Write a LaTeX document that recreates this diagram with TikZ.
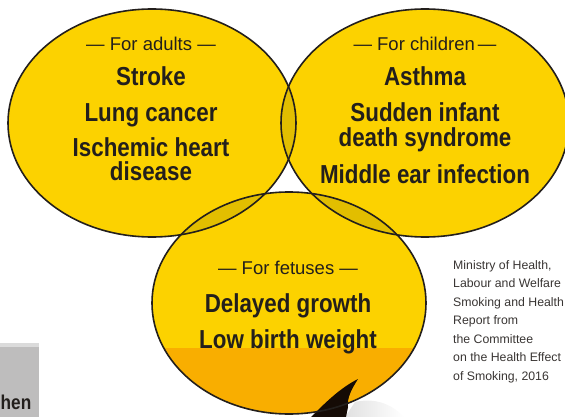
\documentclass[tikz,border=0pt]{standalone}
\usepackage{fontspec}
\setmainfont{Liberation Sans}
\newfontfamily\condfont{Liberation Sans}[FakeStretch=0.86]

\definecolor{sun}{HTML}{FCD200}
\definecolor{lens}{HTML}{E2BE00}
\definecolor{amber}{HTML}{F9AE00}
\definecolor{ink}{HTML}{231F1C}
\definecolor{tail}{HTML}{150B05}
\definecolor{boxgray}{HTML}{BEBDBD}
\definecolor{boxtop}{HTML}{DBDBDB}

\tikzset{
  header/.style={anchor=base, inner sep=0pt, text=ink, font=\fontsize{18.5}{20}\selectfont},
  item/.style={anchor=base, inner sep=0pt, text=ink, font=\condfont\bfseries\fontsize{26}{26}\selectfont},
  note/.style={anchor=north west, inner sep=0pt, align=left, text=ink!90, font=\fontsize{12.3}{18.5}\selectfont},
  ring/.style={draw=ink, line width=1.6pt},
}

\begin{document}
\begin{tikzpicture}[x=1pt, y=-1pt]
  \useasboundingbox (0,0) rectangle (565,417);
  \clip (0,0) rectangle (565,417);

  % Mittelpunkte der drei Ellipsen
  \coordinate (ca) at (152,123);
  \coordinate (cc) at (425,123);
  \coordinate (cf) at (289,303);

  % Schatten unten rechts
  \shade[left color=black!12, right color=white]
    (345,417) -- (355,402) .. controls (372,398) and (390,402) .. (404,417) -- cycle;

  % Flaechen
  \fill[sun] (ca) ellipse [x radius=144pt, y radius=114pt];
  \fill[sun] (cc) ellipse [x radius=144pt, y radius=114pt];
  \fill[sun] (cf) ellipse [x radius=137pt, y radius=111pt];

  % Ueberschneidungen
  \begin{scope}
    \clip (ca) ellipse [x radius=144pt, y radius=114pt];
    \fill[lens] (cc) ellipse [x radius=144pt, y radius=114pt];
    \fill[lens] (cf) ellipse [x radius=137pt, y radius=111pt];
  \end{scope}
  \begin{scope}
    \clip (cc) ellipse [x radius=144pt, y radius=114pt];
    \fill[lens] (cf) ellipse [x radius=137pt, y radius=111pt];
  \end{scope}

  % unterer Streifen
  \begin{scope}
    \clip (cf) ellipse [x radius=137pt, y radius=111pt];
    \fill[amber] (140,348) rectangle (440,420);
  \end{scope}

  % Spitze
  \fill[tail] (311,417) .. controls (325,403) and (340,388) .. (358,379)
    .. controls (351,390) and (347,398) .. (348,407) -- (346,417) -- cycle;

  % Umrisse
  \draw[ring] (ca) ellipse [x radius=144pt, y radius=114pt];
  \draw[ring] (cc) ellipse [x radius=144pt, y radius=114pt];
  \draw[ring] (cf) ellipse [x radius=137pt, y radius=111pt];

  % Erwachsene
  \node[header] (hadults) at (151,50.7) {— For adults —};
  \node[item] (stroke)  at (151,86)  {Stroke};
  \node[item] (lung)    at (151,122) {Lung cancer};
  \node[item] (heart)   at (151,157) {Ischemic heart};
  \node[item] (disease) at (151,181) {disease};

  % Kinder
  \node[header] (hchild) at (425,50.7) {— For children\,—};
  \node[item] (asthma) at (425,86)  {Asthma};
  \node[item] (sids1)  at (425,122) {Sudden infant};
  \node[item] (sids2)  at (425,147) {death syndrome};
  \node[item] (ear)    at (425,183) {Middle ear infection};

  % Foeten
  \node[header] (hfetus) at (288,274) {— For fetuses —};
  \node[item] (delay) at (288,312) {Delayed growth};
  \node[item] (low)   at (288,348) {Low birth weight};

  % Quelle
  \node[note] (src) at (453,260) {Ministry of Health,\\Labour and Welfare\\Smoking and Health\\Report from\\the Committee\\on the Health Effect\\of Smoking, 2016};

  % grauer Kasten links unten
  \fill[boxgray] (0,343) rectangle (39,417);
  \fill[boxtop] (0,343) rectangle (39,347);
  \node[anchor=base west, inner sep=0pt, text=ink, font=\condfont\bfseries\fontsize{20}{20}\selectfont] (cut) at (0.5,409) {hen};
\end{tikzpicture}
\end{document}
